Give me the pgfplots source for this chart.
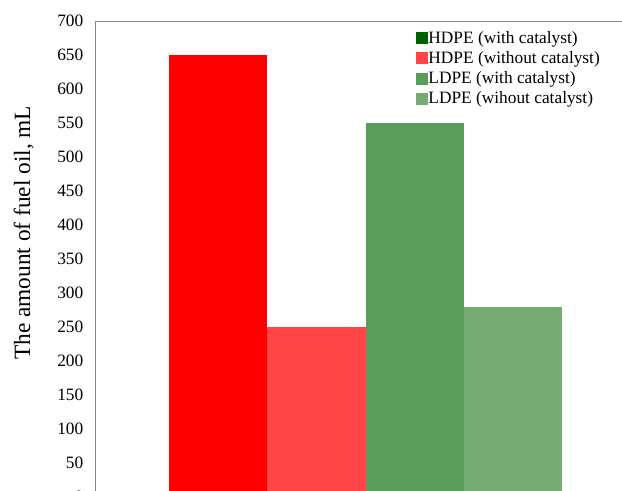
\documentclass[border=0pt]{standalone}
\usepackage{pgfplots}
\pgfplotsset{compat=1.18}
\usepackage{fontspec}
\setmainfont{Liberation Serif}
\definecolor{barA}{HTML}{FF0000}
\definecolor{barB}{HTML}{FF4545}
\definecolor{barC}{HTML}{5A9C5A}
\definecolor{barD}{HTML}{76AB72}
\definecolor{legA}{HTML}{006000}
\definecolor{frame}{HTML}{868686}
\begin{document}
\begin{tikzpicture}
\path[use as bounding box, clip] (0,0) rectangle (466.5pt,367.5pt);
\begin{axis}[
  at={(72pt,-5.25pt)}, anchor=south west,
  scale only axis, width=404.25pt, height=357pt,
  xmin=-0.247, xmax=5.247, ymin=0, ymax=700,
  xtick=\empty,
  ytick={0,50,...,700},
  major tick length=0pt,
  axis line style={frame, line width=0.75pt},
  tick label style={font=\fontsize{13}{15}\selectfont},
  /pgf/number format/assume math mode=true,
  yticklabel style={xshift=-6pt},
  ylabel={The amount of fuel oil, mL},
  ylabel style={font=\fontsize{17.5}{20}\selectfont, at={(axis description cs:-0.134,0.555)}, anchor=center},
  legend cell align=left,
  legend style={draw=none, fill=none, at={(axis description cs:0.593,0.982)}, anchor=north west,
    font=\fontsize{13}{15}\selectfont, row sep=1pt, inner sep=0pt,
    nodes={font=\fontsize{13}{15}\selectfont, inner sep=0.8pt, text height=9.5pt, text depth=3pt}},
  legend image code/.code={\fill[#1] (0pt,-3.2pt) rectangle (8.2pt,5pt);},
]
\addplot[ybar, bar width=1, bar shift=0pt, fill=barA, draw=none, forget plot] coordinates {(1,650)};
\addplot[ybar, bar width=1, bar shift=0pt, fill=barB, draw=none, forget plot] coordinates {(2,250)};
\addplot[ybar, bar width=1, bar shift=0pt, fill=barC, draw=none, forget plot] coordinates {(3,550)};
\addplot[ybar, bar width=1, bar shift=0pt, fill=barD, draw=none, forget plot] coordinates {(4,280)};
\addlegendimage{legA}
\addlegendentry{HDPE (with catalyst)}
\addlegendimage{barB}
\addlegendentry{HDPE (without catalyst)}
\addlegendimage{barC}
\addlegendentry{LDPE (with catalyst)}
\addlegendimage{barD}
\addlegendentry{LDPE (wihout catalyst)}
\end{axis}
\end{tikzpicture}
\end{document}
